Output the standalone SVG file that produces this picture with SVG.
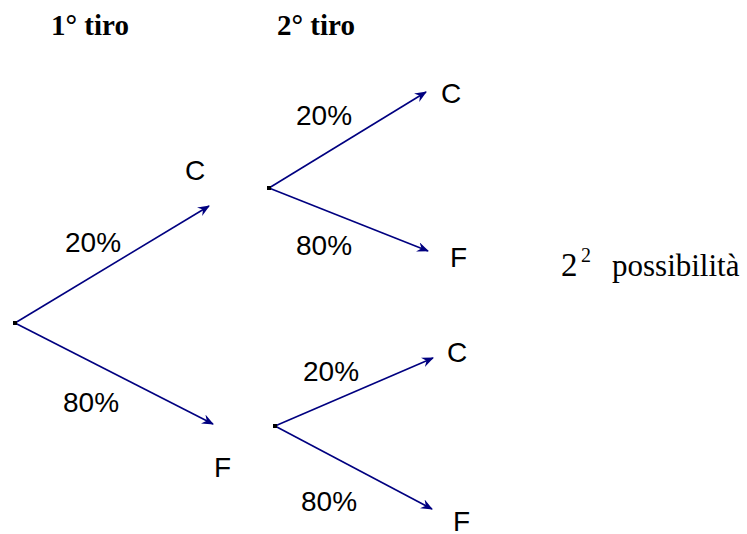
<svg xmlns="http://www.w3.org/2000/svg" width="747" height="534" viewBox="0 0 747 534">
<defs>
<style>
.t{font-family:"Liberation Serif","Times New Roman",serif;fill:#000}
.b{font-weight:bold;font-size:29px}
.s{font-family:"Liberation Sans",Arial,sans-serif;font-size:28px;fill:#000}
.e{stroke:#000080;stroke-width:1.6;fill:none;marker-end:url(#ah)}
.d{fill:#000}
</style>
<marker id="ah" viewBox="0 0 12 10" refX="11" refY="5" markerWidth="12" markerHeight="10" markerUnits="userSpaceOnUse" orient="auto">
<path d="M0,0 L12,5 L0,10 L4,5 z" fill="#000080"/>
</marker>
</defs>
<rect width="747" height="534" fill="#fff"/>
<g id="titles">
<text class="t b" x="51" y="35">1° tiro</text>
<text class="t b" x="277" y="35">2° tiro</text>
</g>
<g id="connectors">
<line class="e" x1="15" y1="323" x2="209" y2="206"/>
<line class="e" x1="15" y1="323" x2="213" y2="424"/>
<line class="e" x1="269" y1="188" x2="426" y2="92"/>
<line class="e" x1="269" y1="188" x2="428" y2="251"/>
<line class="e" x1="275" y1="426" x2="433" y2="358"/>
<line class="e" x1="275" y1="426" x2="432" y2="509"/>
</g>
<g id="root"><rect class="d" x="13" y="321" width="4" height="4"/></g>
<g id="node-C1">
<rect class="d" x="267" y="186" width="4" height="4"/>
<text class="s" x="185" y="180">C</text>
</g>
<g id="node-F1">
<rect class="d" x="273" y="424" width="4" height="4"/>
<text class="s" x="214" y="477">F</text>
</g>
<g id="node-CC"><text class="s" x="441" y="103">C</text></g>
<g id="node-CF"><text class="s" x="450" y="267">F</text></g>
<g id="node-FC"><text class="s" x="447" y="362">C</text></g>
<g id="node-FF"><text class="s" x="453" y="531">F</text></g>
<g id="labels">
<text class="s" x="65" y="252">20%</text>
<text class="s" x="63" y="412">80%</text>
<text class="s" x="296" y="125">20%</text>
<text class="s" x="296" y="255">80%</text>
<text class="s" x="303" y="381">20%</text>
<text class="s" x="301" y="511">80%</text>
</g>
<g id="note">
<text class="t" x="561" y="276" font-size="33">2</text>
<text class="t" x="581" y="262" font-size="20">2</text>
<text class="t" x="612" y="276" font-size="31">possibilità</text>
</g>
</svg>
